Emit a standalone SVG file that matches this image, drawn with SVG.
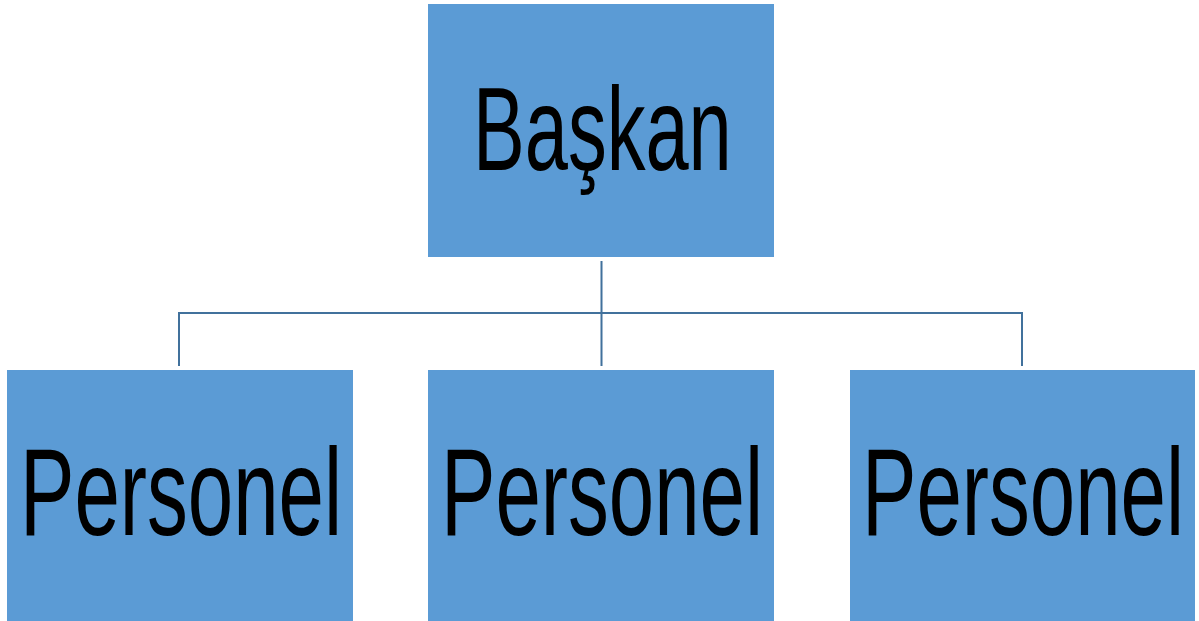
<svg xmlns="http://www.w3.org/2000/svg" width="1199" height="621" viewBox="0 0 1199 621">
<style>
.box{fill:#5B9BD5;}
.lbl{font-family:"Liberation Sans",Arial,sans-serif;fill:#000;}
.con{stroke:#41719C;stroke-width:2;fill:none;}
</style>
<rect width="1199" height="621" fill="#fff"/>
<g id="connectors">
<path class="con" d="M601.5 261V366M179 366V313H1022V366"/>
</g>
<g id="baskan">
<rect class="box" x="428" y="4" width="346" height="253"/>
<text class="lbl" transform="translate(473,170) scale(0.652,1)" font-size="119">Başkan</text>
</g>
<g id="personel1">
<rect class="box" x="7" y="370" width="346" height="251"/>
<text class="lbl" transform="translate(20,535) scale(0.653,1)" font-size="125">Personel</text>
</g>
<g id="personel2">
<rect class="box" x="428" y="370" width="346" height="251"/>
<text class="lbl" transform="translate(441,535) scale(0.653,1)" font-size="125">Personel</text>
</g>
<g id="personel3">
<rect class="box" x="850" y="370" width="345" height="251"/>
<text class="lbl" transform="translate(862,535) scale(0.653,1)" font-size="125">Personel</text>
</g>
</svg>
